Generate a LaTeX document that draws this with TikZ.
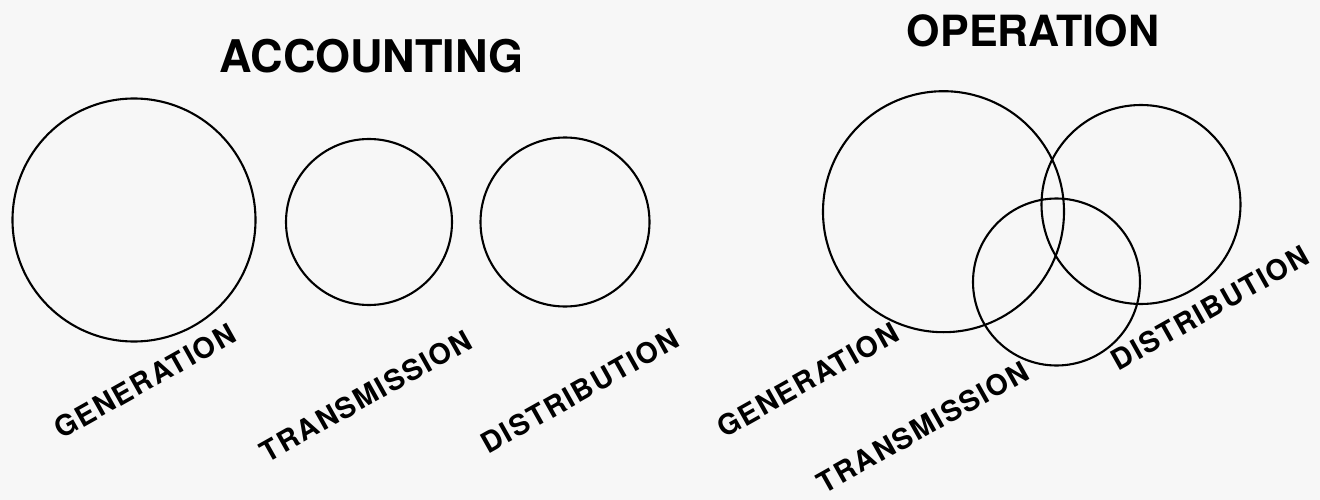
\documentclass[tikz,border=0pt]{standalone}
\usepackage{fontspec}
\setmainfont{TeX Gyre Heros}
\newfontfamily\lblfont[LetterSpace=6]{TeX Gyre Heros}
\definecolor{paper}{HTML}{F7F7F7}
\tikzset{
  ring/.style={circle, draw=black, line width=2.1pt, inner sep=0pt},
  title/.style={font=\fontsize{45}{50}\selectfont\bfseries, inner sep=0pt},
  lbl/.style={font=\lblfont\fontsize{28.5}{34}\selectfont\bfseries, inner sep=0pt, rotate=29.3},
}
\begin{document}
\begin{tikzpicture}[x=1pt,y=-1pt]
\fill[paper] (0,0) rectangle (1320,500);
\useasboundingbox (0,0) rectangle (1320,500);
% titles
\node[title] (acc) at (371.5,56.5) {ACCOUNTING};
\node[title, font=\fontsize{43}{48}\selectfont\bfseries] (op) at (1033,30.5) {OPERATION};
% accounting circles
\node[ring, minimum size=243pt] (genA) at (134,220) {};
\node[ring, minimum size=166pt] (traA) at (369,222) {};
\node[ring, minimum size=169pt] (disA) at (565,222) {};
% operation circles
\node[ring, minimum size=241pt] (genB) at (943.5,211.7) {};
\node[ring, minimum size=199pt] (disB) at (1141,204.5) {};
\node[ring, minimum size=167pt] (traB) at (1056.5,282) {};
% labels
\node[lbl] (lgenA) at (145,381) {GENERATION};
\node[lbl] (ltraA) at (366,396) {TRANSMISSION};
\node[lbl] (ldisA) at (580,391) {DISTRIBUTION};
\node[lbl] (lgenB) at (808,380) {GENERATION};
\node[lbl] (ltraB) at (923,427) {TRANSMISSION};
\node[lbl] (ldisB) at (1210,308) {DISTRIBUTION};
\end{tikzpicture}
\end{document}
